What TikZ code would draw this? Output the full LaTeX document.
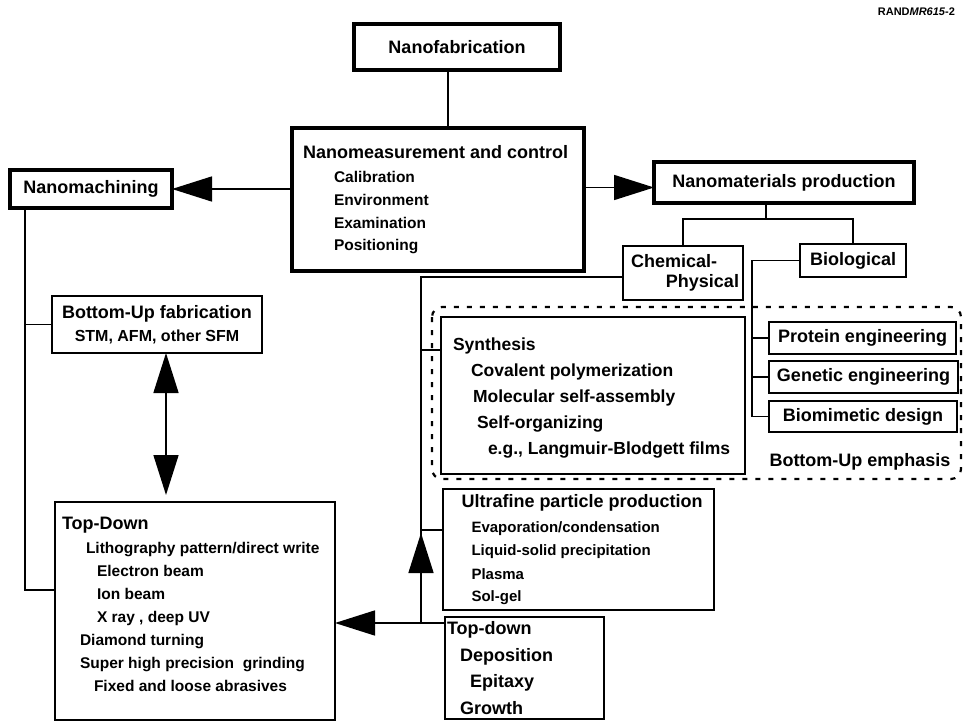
\documentclass[tikz,border=0pt]{standalone}
\usepackage{fontspec}
\setmainfont{Liberation Sans}
\usepackage{tikz}
\usetikzlibrary{arrows.meta}

\newcommand\hd{\fontsize{18}{22}\selectfont\bfseries}
\newcommand\lst{\fontsize{15.5}{23}\selectfont\bfseries}
\newcommand\syn{\fontsize{17.5}{26}\selectfont\bfseries}

\begin{document}
\begin{tikzpicture}[
  x=1pt, y=-1pt,
  every node/.style={inner sep=0pt, outer sep=0pt, execute at begin node={\spaceskip=0pt\xspaceskip=0pt\relax}},
  mainbox/.style={draw, line width=3.5pt, anchor=north west, align=center, font=\hd},
  box/.style={draw, line width=1.8pt, anchor=north west},
  link/.style={line width=1.6pt},
  bigtip/.style={-{Triangle[length=40pt,width=25pt]}},
  hatch/.style={line width=2.2pt, dash pattern=on 5pt off 8pt, rounded corners=10pt}
]
  \useasboundingbox (0,0) rectangle (963,722);

  % top level
  \node[mainbox, minimum width=206pt, minimum height=46pt] (nanofab) at (354,24) {Nanofabrication};
  \node[mainbox, minimum width=292pt, minimum height=143pt, text width=270pt, align=left] (measure) at (292,128)
    {Nanomeasurement and control\\[1pt]
     \lst\hspace*{31pt}Calibration\\
     \lst\hspace*{31pt}Environment\\
     \lst\hspace*{31pt}Examination\\
     \lst\hspace*{31pt}Positioning};
  \node[mainbox, minimum width=162pt, minimum height=38pt] (machining) at (10,170) {Nanomachining};
  \node[mainbox, minimum width=260pt, minimum height=41pt] (materials) at (654,162) {Nanomaterials production};
  \node[anchor=north east, font=\fontsize{11}{13}\selectfont\bfseries] (tag) at (955,8) {RAND\textit{MR615}-2};

  % materials side
  \node[box, minimum width=120pt, minimum height=54pt, text width=112pt, align=left, font=\fontsize{18}{20}\selectfont\bfseries] (chemphys) at (623,246)
    {\hspace*{4pt}Chemical-\\\hspace*{\fill}Physical};
  \node[box, minimum width=106pt, minimum height=33pt, font=\hd] (bio) at (800,244) {Biological};
  \node[box, minimum width=187pt, minimum height=32pt, font=\hd] (protein) at (769,322) {Protein engineering};
  \node[box, minimum width=189pt, minimum height=32pt, font=\hd] (genetic) at (769,361) {Genetic engineering};
  \node[box, minimum width=188pt, minimum height=31pt, font=\hd] (biomim) at (769,401) {Biomimetic design};
  \draw[hatch] (432,307) rectangle (961,479);
  \node[font=\hd] (emph) at (860,462) {Bottom-Up emphasis};

  \node[box, minimum width=304pt, minimum height=157pt, text width=280pt, align=left, font=\syn] (synth) at (441,317)
    {\rule{0pt}{18pt}Synthesis\\
     \hspace*{18pt}Covalent polymerization\\
     \hspace*{20pt}Molecular self-assembly\\
     \hspace*{24pt}Self-organizing\\
     \hspace*{35pt}e.g., Langmuir-Blodgett films};
  \node[box, minimum width=271pt, minimum height=121pt, text width=262pt, align=left, font=\hd] (ultra) at (443,489)
    {\hspace*{14pt}Ultrafine particle production\\[1pt]
     \fontsize{15}{23.5}\selectfont\hspace*{24pt}Evaporation/condensation\\
     \fontsize{15}{23.5}\selectfont\hspace*{24pt}Liquid-solid precipitation\\
     \fontsize{15}{23.5}\selectfont\hspace*{24pt}Plasma\\
     \fontsize{15}{23.5}\selectfont\hspace*{24pt}Sol-gel};
  \node[box, minimum width=159pt, minimum height=102pt, text width=155pt, align=left, font=\fontsize{18}{26.5}\selectfont\bfseries] (topdn) at (445,617)
    {Top-down\\
     \hspace*{13pt}Deposition\\
     \hspace*{23pt}Epitaxy\\
     \hspace*{13pt}Growth};

  % machining side
  \node[box, minimum width=210pt, minimum height=57pt, align=center, font=\hd] (bufab) at (52,296)
    {Bottom-Up fabrication\\[1pt]{\fontsize{16}{20}\selectfont STM, AFM, other SFM}};
  \node[box, minimum width=280pt, minimum height=218pt, text width=266pt, align=left, font=\hd] (topdown) at (55,502)
    {Top-Down\\[1pt]
     \lst\hspace*{24pt}Lithography pattern/direct write\\
     \lst\hspace*{35pt}Electron beam\\
     \lst\hspace*{35pt}Ion beam\\
     \lst\hspace*{35pt}X ray , deep UV\\
     \lst\hspace*{18pt}Diamond turning\\
     \lst\hspace*{18pt}Super high precision\ \ grinding\\
     \lst\hspace*{32pt}Fixed and loose abrasives\\[-9pt]\mbox{}};

  % connectors
  \coordinate (fork) at (766,219);
  \coordinate (biotrunk) at (752,0);
  \coordinate (chemtrunk) at (421,624);
  \coordinate (synthjoin) at (441,350);
  \coordinate (ultrajoin) at (443,530);
  \coordinate (mtrunk) at (25,590);
  \coordinate (bu) at (166,0);

  \draw[link] ([xshift=10pt]measure.north) -- ([xshift=10pt]measure.north |- nanofab.south);
  \draw[link, bigtip] (measure.west |- machining.east) -- (machining.east);
  \draw[link, bigtip] ([yshift=-5pt]measure.east |- materials.west) -- ([yshift=-5pt]materials.west);

  \draw[link] (fork |- materials.south) -- (fork);
  \draw[link] (chemphys.north) -- (chemphys.north |- fork) -- (bio.north |- fork) -- (bio.north);

  \draw[link] (bio.west) -| (biotrunk |- biomim.west) -- (biomim.west);
  \draw[link] (biotrunk |- protein.west) -- (protein.west);
  \draw[link] (biotrunk |- genetic.west) -- (genetic.west);

  \draw[link] ([yshift=-4pt]chemphys.west) -| (chemtrunk);
  \draw[link] (synthjoin -| chemtrunk) -- (synthjoin);
  \draw[link] (ultrajoin -| chemtrunk) -- (ultrajoin);
  \draw[link, bigtip] (chemtrunk) -- ([yshift=-3pt]chemtrunk |- ultrajoin);
  \draw[link, bigtip] ([yshift=-6pt]topdn.north west) -- ([yshift=-6pt]topdn.north west -| topdown.east);

  \draw[link] (mtrunk |- machining.south) -- (mtrunk) -- (mtrunk -| topdown.west);
  \draw[link] (mtrunk |- bufab.west) -- (bufab.west);
  \draw[link, {Triangle[length=40pt,width=25pt]}-{Triangle[length=40pt,width=25pt]}, shorten >=7pt]
    (bu |- bufab.south) -- (bu |- topdown.north);
\end{tikzpicture}
\end{document}
